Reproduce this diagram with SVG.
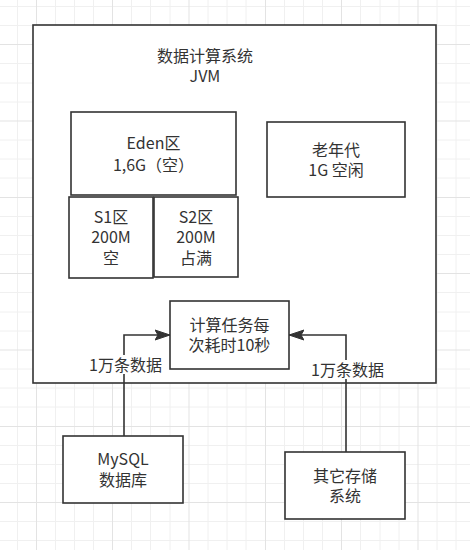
<svg xmlns="http://www.w3.org/2000/svg" width="470" height="550" viewBox="0 0 470 550">
  <defs>
    <marker id="arrow" markerUnits="userSpaceOnUse" markerWidth="16" markerHeight="12" refX="15" refY="6" orient="auto" viewBox="0 0 16 12">
      <path d="M0,1 L15,6 L0,11 L3,6 Z" fill="#333333" stroke="#333333" stroke-width="1"/>
    </marker>
    <style>
      .minor { fill: none; stroke: #f0f0f0; stroke-width: 1; }
      .major { fill: none; stroke: #e3e3e3; stroke-width: 1; }
      .box { fill: #ffffff; stroke: #333333; stroke-width: 1.6; }
      .t { font-family: "Noto Sans CJK SC", "Noto Sans", sans-serif; font-size: 16px; fill: #333333; text-anchor: middle; }
      .conn { fill: none; stroke: #333333; stroke-width: 1.6; }
      .lbl { fill: #ffffff; }
    </style>
  </defs>
  <rect width="470" height="550" fill="#ffffff"/>
  <g id="grid">
    <path class="minor" d="M17.5,0V550 M55.5,0V550 M74.5,0V550 M93.5,0V550 M131.5,0V550 M150.5,0V550 M170,0V550 M208,0V550 M227,0V550 M246,0V550 M284.5,0V550 M303.5,0V550 M322.5,0V550 M360.5,0V550 M380,0V550 M399,0V550 M437,0V550 M456,0V550
      M0,6.5H470 M0,25.5H470 M0,63.5H470 M0,83H470 M0,102H470 M0,140H470 M0,159H470 M0,178H470 M0,216.5H470 M0,235.5H470 M0,254.5H470 M0,292.5H470 M0,312H470 M0,331H470 M0,369H470 M0,388H470 M0,407H470 M0,445.5H470 M0,464.5H470 M0,483.5H470 M0,521.5H470 M0,540.5H470"/>
    <path class="major" d="M36.5,0V550 M112.5,0V550 M189,0V550 M265.5,0V550 M341.5,0V550 M418,0V550
      M0,44.5H470 M0,121H470 M0,197.5H470 M0,273.5H470 M0,350H470 M0,426.5H470 M0,502.5H470"/>
  </g>

  <g id="jvm">
    <rect class="box" x="33" y="25" width="403" height="358"/>
    <text class="t" x="205" y="62">数据计算系统</text>
    <text class="t" x="205" y="82">JVM</text>
  </g>
  <g id="eden">
    <rect class="box" x="71" y="112" width="165" height="83"/>
    <text class="t" x="153.5" y="149">Eden区</text>
    <text class="t" x="153.5" y="171">1,6G（空）</text>
  </g>
  <g id="old">
    <rect class="box" x="267" y="122" width="138" height="75"/>
    <text class="t" x="336" y="155.5">老年代</text>
    <text class="t" x="336" y="175.5">1G 空闲</text>
  </g>
  <g id="s1">
    <rect class="box" x="69" y="197" width="84" height="81"/>
    <text class="t" x="111" y="223">S1区</text>
    <text class="t" x="111" y="243">200M</text>
    <text class="t" x="111" y="264">空</text>
  </g>
  <g id="s2">
    <rect class="box" x="154" y="197" width="84" height="80"/>
    <text class="t" x="196" y="223">S2区</text>
    <text class="t" x="196" y="243">200M</text>
    <text class="t" x="196" y="264">占满</text>
  </g>
  <g id="task">
    <rect class="box" x="170" y="301" width="119" height="68"/>
    <text class="t" x="229.5" y="331">计算任务每</text>
    <text class="t" x="229.5" y="351">次耗时10秒</text>
  </g>
  <g id="mysql">
    <rect class="box" x="63" y="436" width="120" height="67"/>
    <text class="t" x="123" y="464.5">MySQL</text>
    <text class="t" x="123" y="485.5">数据库</text>
  </g>
  <g id="other">
    <rect class="box" x="285" y="452" width="120" height="67"/>
    <text class="t" x="345" y="482">其它存储</text>
    <text class="t" x="345" y="502">系统</text>
  </g>

  <g id="connectors">
    <path class="conn" d="M124,436 V335 H170" marker-end="url(#arrow)"/>
    <path class="conn" d="M346,452 V335 H289" marker-end="url(#arrow)"/>
    <rect class="lbl" x="87" y="355" width="77" height="19"/>
    <text class="t" x="125.5" y="370.5">1万条数据</text>
    <rect class="lbl" x="309" y="360" width="77" height="19"/>
    <text class="t" x="347.5" y="375.5">1万条数据</text>
  </g>
</svg>
